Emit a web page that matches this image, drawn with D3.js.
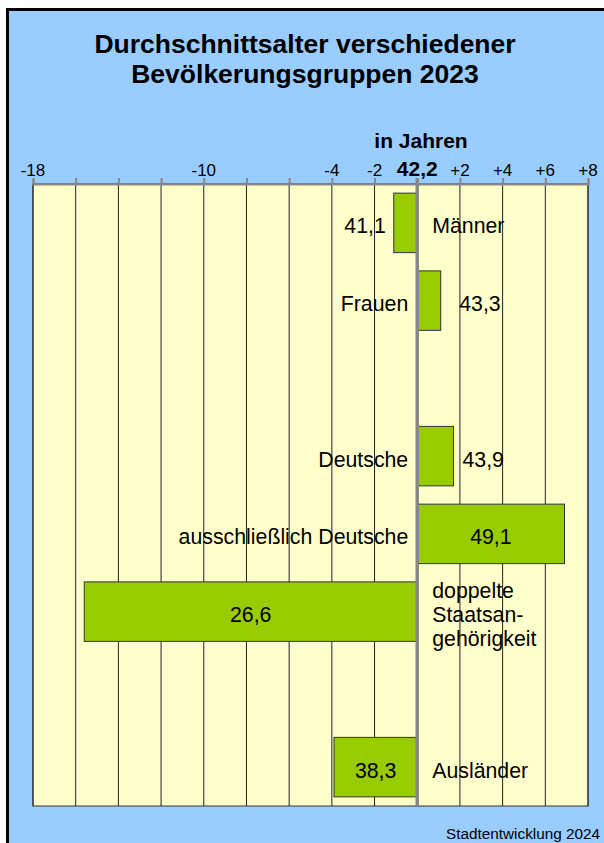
<!DOCTYPE html>
<meta charset="utf-8">
<style>
body { margin: 0; background: #fff; }
svg text { font-family: Arial, "Liberation Sans", sans-serif; fill: #000; }
.grid line { stroke: #222; stroke-width: 1; }
.bar { fill: #99cc00; stroke: #333; stroke-width: 1; }
.lbl { font-size: 21.3px; }
</style>
<body>
<div id="chart"></div>
<script src="https://d3js.org/d3.v7.min.js"></script>
<script>
// average age of all inhabitants, used as zero line
var average = 42.2;
var categories = ["Männer", "Frauen", "Deutsche", "ausschließlich Deutsche", "doppelte Staatsangehörigkeit", "Ausländer"];
var categoryLines = [["Männer"], ["Frauen"], ["Deutsche"], ["ausschließlich Deutsche"], ["doppelte", "Staatsan-", "gehörigkeit"], ["Ausländer"]];
var ages = [41.1, 43.3, 43.9, 49.1, 26.6, 38.3];
// row order, with two empty rows
var rows = ["Männer", "Frauen", "gap1", "Deutsche", "ausschließlich Deutsche", "doppelte Staatsangehörigkeit", "gap2", "Ausländer"];
var gridTicks = [-18, -16, -14, -12, -10, -8, -6, -4, -2, 0, 2, 4, 6, 8];
var labelTicks = [-18, -10, -4, -2, 0, 2, 4, 6, 8];

var W = 604, H = 843;
var plot = {left: 33, right: 588, top: 184, bottom: 806};

var de = d3.formatLocale({decimal: ",", thousands: ".", grouping: [3], currency: ["", " €"]});
var fmt = de.format(".1f");

var svg = d3.select("#chart").append("svg").attr("width", W).attr("height", H);

// frame
svg.append("rect").attr("x", 7.5).attr("y", 9.5).attr("width", W + 20).attr("height", H + 20)
  .attr("fill", "#99ccff").attr("stroke", "#000").attr("stroke-width", 3);

svg.append("text").attr("x", 305).attr("y", 53).attr("text-anchor", "middle")
  .style("font-size", "26.5px").style("font-weight", "bold").text("Durchschnittsalter verschiedener");
svg.append("text").attr("x", 305).attr("y", 83).attr("text-anchor", "middle")
  .style("font-size", "26.5px").style("font-weight", "bold").text("Bevölkerungsgruppen 2023");

var x = d3.scaleLinear().domain([-18, 8]).range([plot.left, plot.right]);
var y = d3.scaleBand().domain(rows).range([plot.top, plot.bottom]).paddingInner(0.235).paddingOuter(0.1175);

svg.append("rect").attr("x", plot.left).attr("y", plot.top)
  .attr("width", plot.right - plot.left).attr("height", plot.bottom - plot.top)
  .attr("fill", "#ffffcc").attr("stroke", "#333").attr("stroke-width", 1);

svg.append("g").attr("class", "grid").selectAll("line")
  .data(gridTicks.filter(function(d) { return d != 0; }))
  .enter().append("line")
  .attr("x1", function(d) { return x(d); }).attr("x2", function(d) { return x(d); })
  .attr("y1", plot.top).attr("y2", plot.bottom);

// axis on top
var axis = svg.append("g").attr("transform", "translate(0," + plot.top + ")")
  .call(d3.axisTop(x).tickValues(gridTicks).tickSize(6).tickFormat(""));
axis.selectAll("path, line").attr("stroke", "#888").attr("stroke-width", 2);

axis.selectAll(".lab").data(labelTicks).enter().append("text")
  .attr("x", function(d) { return x(d); }).attr("y", -8).attr("text-anchor", "middle")
  .style("font-size", function(d) { return d == 0 ? "21px" : "17px"; })
  .style("font-weight", function(d) { return d == 0 ? "bold" : "normal"; })
  .attr("fill", "#000")
  .text(function(d) { return d == 0 ? fmt(average) : (d > 0 ? "+" + d : "-" + Math.abs(d)); });

svg.append("text").attr("x", 421).attr("y", 148).attr("text-anchor", "middle")
  .style("font-size", "21px").style("font-weight", "bold").text("in Jahren");

var data = categories.map(function(c, i) {
  return {cat: c, lines: categoryLines[i], age: ages[i], diff: ages[i] - average};
});

svg.selectAll(".bar").data(data).enter().append("rect")
  .attr("class", "bar")
  .attr("x", function(d) { return x(Math.min(0, d.diff)); })
  .attr("y", function(d) { return y(d.cat); })
  .attr("width", function(d) { return Math.abs(x(d.diff) - x(0)); })
  .attr("height", y.bandwidth());

// zero line
svg.append("line").attr("x1", x(0)).attr("x2", x(0)).attr("y1", plot.top - 6).attr("y2", plot.bottom)
  .attr("stroke", "#888").attr("stroke-width", 3.5);

// value labels
svg.selectAll(".val").data(data).enter().append("text")
  .attr("class", "lbl")
  .attr("y", function(d) { return y(d.cat) + y.bandwidth() / 2 + 10.5; })
  .attr("x", function(d) {
    if (Math.abs(d.diff) > 3) return (x(d.diff) + x(0)) / 2;
    if (d.diff > 0) return Math.max(x(d.diff) + 9, x(0) + 42);
    return Math.min(x(d.diff) - 8, x(0) - 31);
  })
  .attr("text-anchor", function(d) {
    if (Math.abs(d.diff) > 3) return "middle";
    return d.diff > 0 ? "start" : "end";
  })
  .text(function(d) { return fmt(d.age); });

// category labels on the opposite side of the bar
var cats = svg.selectAll(".cat").data(data).enter().append("text")
  .attr("class", "lbl")
  .attr("text-anchor", function(d) { return d.diff < 0 ? "start" : "end"; })
  .attr("transform", function(d) {
    var cx = d.diff < 0 ? x(0) + 15 : x(0) - 9;
    var cy = y(d.cat) + y.bandwidth() / 2 + 10.5 - (d.lines.length - 1) * 12;
    return "translate(" + cx + "," + cy + ")";
  });
cats.selectAll("tspan").data(function(d) { return d.lines; }).enter().append("tspan")
  .attr("x", 0).attr("y", function(d, i) { return i * 24; })
  .text(function(d) { return d; });

svg.append("text").attr("x", 600).attr("y", 839).attr("text-anchor", "end")
  .style("font-size", "15.3px").text("Stadtentwicklung 2024");
</script>
</body>
